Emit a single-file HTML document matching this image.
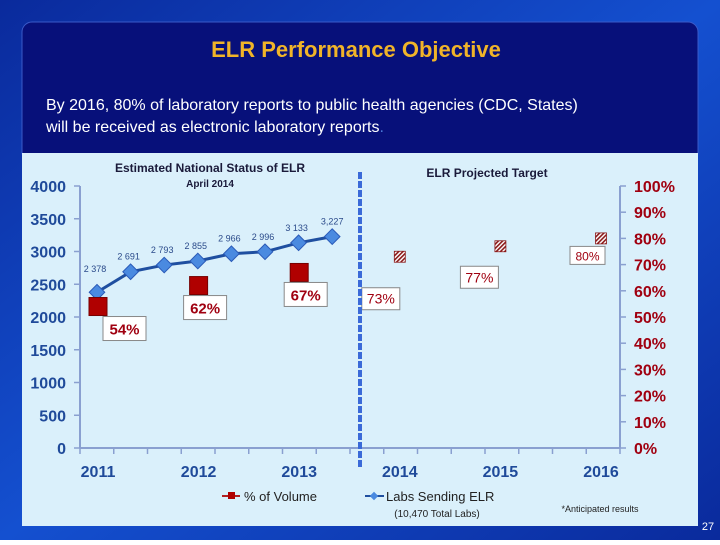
<!DOCTYPE html>
<html><head><meta charset="utf-8"><style>
body{margin:0;width:720px;height:540px;overflow:hidden;font-family:"Liberation Sans",sans-serif}
</style></head><body>
<svg width="720" height="540" viewBox="0 0 720 540" xmlns="http://www.w3.org/2000/svg">
<defs>
<linearGradient id="bg" x1="0" y1="0" x2="1" y2="1"><stop offset="0" stop-color="#0a2a9c"/><stop offset="0.5" stop-color="#1450d0"/><stop offset="1" stop-color="#0a2a9c"/></linearGradient>
<pattern id="hatch" width="3" height="3" patternUnits="userSpaceOnUse" patternTransform="rotate(45)"><rect width="3" height="3" fill="#fff"/><rect width="1.6" height="3" fill="#8b1a1a"/></pattern>
</defs>
<rect width="720" height="540" fill="url(#bg)"/>
<rect x="22" y="22" width="676" height="140" rx="10" fill="#07107a" stroke="#3a5ac8"/>
<text x="356" y="57" text-anchor="middle" font-size="22" font-weight="bold" fill="#f0b429" font-family="'Liberation Sans',sans-serif">ELR Performance Objective</text>
<text x="46" y="110" font-size="16" fill="#fff">By 2016, 80% of laboratory reports to public health agencies (CDC, States)</text>
<text x="46" y="132" font-size="16" fill="#fff">will be received as electronic laboratory reports<tspan fill="#4a7ad8">.</tspan></text>
<rect x="22" y="153" width="676" height="373" fill="#daf0fb"/>
<text x="210" y="172" text-anchor="middle" font-size="12" font-weight="bold" fill="#1a1a3a">Estimated National Status of ELR</text>
<text x="210" y="187" text-anchor="middle" font-size="10" font-weight="bold" fill="#1a1a3a">April 2014</text>
<text x="487" y="177" text-anchor="middle" font-size="12" font-weight="bold" fill="#1a1a3a">ELR Projected Target</text>
<g id="axes"></g>
<g id="marks"></g>
<line x1="360" y1="172" x2="360" y2="467" stroke="#3a6ad8" stroke-width="4" stroke-dasharray="7,2"/>
<g>
<line x1="222" y1="496" x2="240" y2="496" stroke="#b02020" stroke-width="2"/><rect x="228" y="492" width="7" height="7" fill="#b00000"/>
<text x="244" y="501" font-size="13" fill="#222">% of Volume</text>
<line x1="365" y1="496" x2="384" y2="496" stroke="#1f4fa0" stroke-width="2"/><rect x="371" y="493" width="6" height="6" fill="#4a8ae0" transform="rotate(45 374 496)"/>
<text x="386" y="501" font-size="13" fill="#222">Labs Sending ELR</text>
<text x="437" y="517" text-anchor="middle" font-size="10" fill="#222">(10,470 Total Labs)</text>
</g>
<text x="600" y="512" text-anchor="middle" font-size="9" fill="#222">*Anticipated results</text>
<text x="708" y="530" text-anchor="middle" font-size="11" fill="#fff">27</text>
</svg>
<script>
const labsX = [0,1,2,3,4,5,6,7];
const labsValues = [2378,2691,2793,2855,2966,2996,3133,3227];
const labsLabels = ["2 378","2 691","2 793","2 855","2 966","2 996","3 133","3,227"];
const volYears = [0,1,2];
const volValues = [54,62,67];
const projYears = [3,4,5];
const projValues = [73,77,80];
const leftTicks = [0,500,1000,1500,2000,2500,3000,3500,4000];
const rightTicks = [0,10,20,30,40,50,60,70,80,90,100];
const yearLabels = ["2011","2012","2013","2014","2015","2016"];

const NS="http://www.w3.org/2000/svg";
const yL = v => 448 - v*262/4000;
const yR = v => 448 - v*2.62;
const xPt = i => 97 + i*33.6;
const xYear = i => 98 + i*100.6;
function mk(tag, attrs, parent, text){const e=document.createElementNS(NS,tag);for(const k in attrs)e.setAttribute(k,attrs[k]);if(text!==undefined)e.textContent=text;parent.appendChild(e);return e;}
const axes=document.getElementById('axes'), marks=document.getElementById('marks');
let a=mk('line',{x1:80,y1:186,x2:80,y2:448,stroke:'#8aa0d0','stroke-width':2},axes);


leftTicks.forEach(v=>{
 mk('line',{x1:74,y1:yL(v),x2:80,y2:yL(v),stroke:'#8aa0d0','stroke-width':1.5},axes);
 const t=mk('text',{x:66,y:yL(v)+6,'text-anchor':'end','font-size':16,'font-weight':'bold',fill:'#1f4a9a'},axes,String(v));
 
 
});
a=mk('line',{x1:620,y1:186,x2:620,y2:448,stroke:'#8aa0d0','stroke-width':2},axes);


rightTicks.forEach(v=>{
 mk('line',{x1:620,y1:yR(v),x2:626,y2:yR(v),stroke:'#8aa0d0','stroke-width':1.5},axes);
 const t=mk('text',{x:634,y:yR(v)+6,'font-size':16,'font-weight':'bold',fill:'#a00010'},axes,v+'%');
 
 
});
a=mk('line',{x1:80,y1:448,x2:620,y2:448,stroke:'#8aa0d0','stroke-width':2},axes);


for(let i=0;i<=16;i++){mk('line',{x1:80+i*33.75,y1:448,x2:80+i*33.75,y2:454,stroke:'#8aa0d0','stroke-width':1.5},axes);}
yearLabels.forEach((y,i)=>{
 const t=mk('text',{x:xYear(i),y:477,'text-anchor':'middle','font-size':16,'font-weight':'bold',fill:'#1f4a9a'},axes,y);
 
 
});
const pl=mk('polyline',{points:labsValues.map((v,i)=>xPt(labsX[i])+','+yL(v)).join(' '),fill:'none',stroke:'#1f4fa0','stroke-width':3},marks);


labsValues.forEach((v,i)=>{
 const x=xPt(labsX[i]),y=yL(v);
 const d=mk('rect',{x:x-5.5,y:y-5.5,width:11,height:11,fill:'#4a8ae0',stroke:'#2a5ab8','stroke-width':1,transform:`rotate(45 ${x} ${y})`},marks);
 
 
 const t=mk('text',{x:x+(i==7?0:-2),y:y-12-(i==0?8:0),'text-anchor':'middle','font-size':9,fill:'#2a4a8a'},marks,labsLabels[i]);
 
 
});
volValues.forEach((v,i)=>{
 const x=xYear(volYears[i]),y=yR(v);
 const r=mk('rect',{x:x-9,y:y-9,width:18,height:18,fill:'#b00000',stroke:'#700',"stroke-width":1},marks);
 
 
 const bx=x+(i==0?5:-15), by=y+10;
 mk('rect',{x:bx,y:by,width:43,height:24,fill:'#fff',stroke:'#888'},marks);
 const t=mk('text',{x:bx+21.5,y:by+18,'text-anchor':'middle','font-size':15,'font-weight':'bold',fill:'#a00010'},marks,v+'%');
 
 
});
projValues.forEach((v,i)=>{
 const x=xYear(projYears[i]),y=yR(v);
 const r=mk('rect',{x:x-5.5,y:y-5.5,width:11,height:11,fill:'url(#hatch)',stroke:'#8b1a1a','stroke-width':0.8},marks);
 
 
 const off=[[-38,+31],[-40,+20],[-31,+8]][i];
 const bx=x+off[0], by=y+off[1];
 mk('rect',{x:bx,y:by,width:i==2?35:38,height:i==2?18:22,fill:'#fff',stroke:'#888'},marks);
 const t=mk('text',{x:bx+(i==2?17.5:19),y:by+(i==2?14:16),'text-anchor':'middle','font-size':i==2?12:14,fill:'#a00010'},marks,v+'%');
 
 
});
</script>
</body></html>
